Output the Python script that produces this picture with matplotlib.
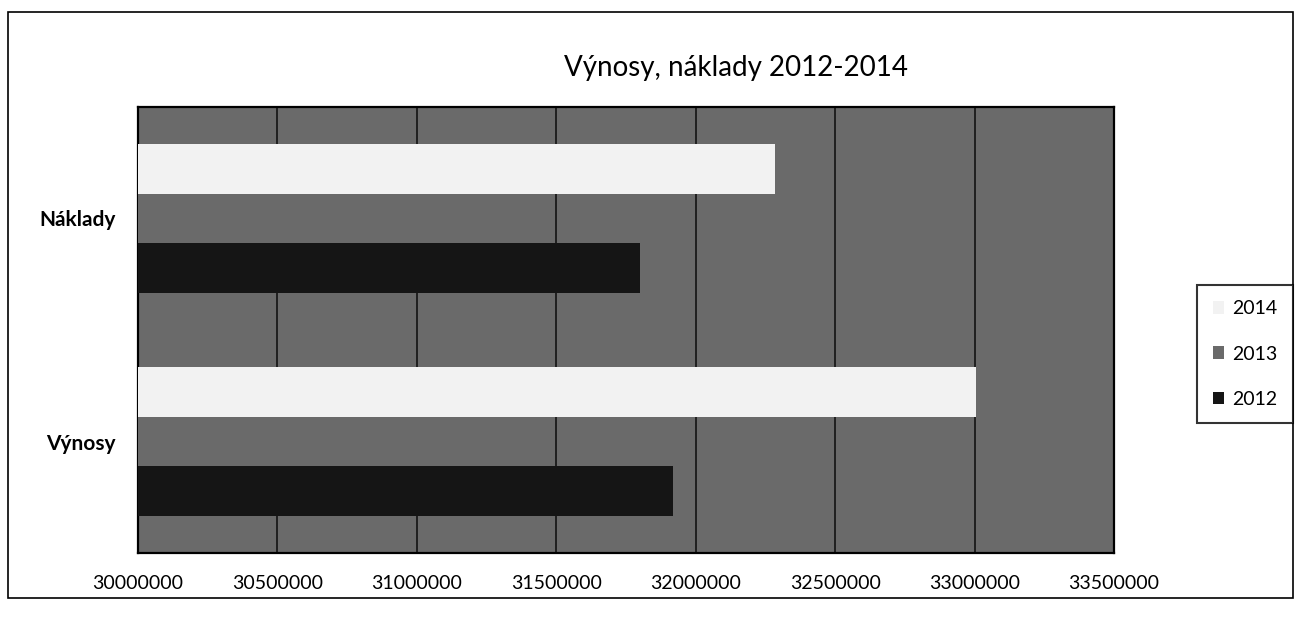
import numpy as np
import matplotlib.pyplot as plt
from matplotlib.patches import Rectangle, Patch

plt.rcParams['font.family'] = ['Lato', 'DejaVu Sans']

# data (2013 bars blend into the background, values estimated)
categories = ["Výnosy", "Náklady"]
years = ["2012", "2013", "2014"]
values_2012 = [31920000, 31800000]
values_2013 = [31450000, 31400000]
values_2014 = [33005000, 32285000]
xticks = [30000000, 30500000, 31000000, 31500000, 32000000, 32500000, 33000000, 33500000]

bg = "#6a6a6a"
colors = {"2012": "#151515", "2013": bg, "2014": "#f2f2f2"}

fig = plt.figure(figsize=(12.96, 6.24), dpi=100)
ax = fig.add_axes([138 / 1296, 1 - 553 / 624, 976 / 1296, 446 / 624])
ax.set_facecolor(bg)

y = np.arange(len(categories))
h = 0.222
series = [("2012", values_2012, -h), ("2013", values_2013, 0), ("2014", values_2014, h)]
base = xticks[0]
for name, vals, off in series:
    ax.barh(y + off, np.array(vals) - base, left=base, height=h,
            color=colors[name], edgecolor="none", zorder=3)

ax.set_xlim(xticks[0], xticks[-1])
ax.set_ylim(-0.5, 1.5)
ax.set_xticks(xticks)
ax.set_xticklabels([str(v) for v in xticks], fontsize=14)
ax.set_yticks(y)
ax.set_yticklabels(categories, fontsize=15, fontweight="bold")
ax.tick_params(axis="both", length=0)
ax.tick_params(axis="x", pad=16)
ax.tick_params(axis="y", pad=16)
ax.grid(axis="x", color="#1a1a1a", linewidth=1.3, zorder=1)
ax.set_axisbelow(True)
for s in ax.spines.values():
    s.set_color("black")
    s.set_linewidth(1.6)

fig.text(736 / 1296, 1 - 68 / 624, "Výnosy, náklady 2012-2014", ha="center", va="center", fontsize=20)

handles = [Patch(facecolor=colors[n], edgecolor="none") for n in years]
leg = fig.legend(handles[::-1], years[::-1], loc="center", bbox_to_anchor=(1245 / 1296, 1 - 354 / 624),
                 frameon=True, fontsize=14, labelspacing=1.45, handlelength=0.6, handleheight=0.6,
                 handletextpad=0.4, borderpad=0.8, fancybox=False)
leg.get_frame().set_edgecolor("black")
leg.get_frame().set_linewidth(1.5)

# outer chart border
fig.patches.append(Rectangle((8 / 1296, 1 - 598 / 624), 1285 / 1296, 586 / 624,
                             transform=fig.transFigure, fill=False, edgecolor="black", linewidth=1.2))

fig.savefig("out.png", dpi=100)
